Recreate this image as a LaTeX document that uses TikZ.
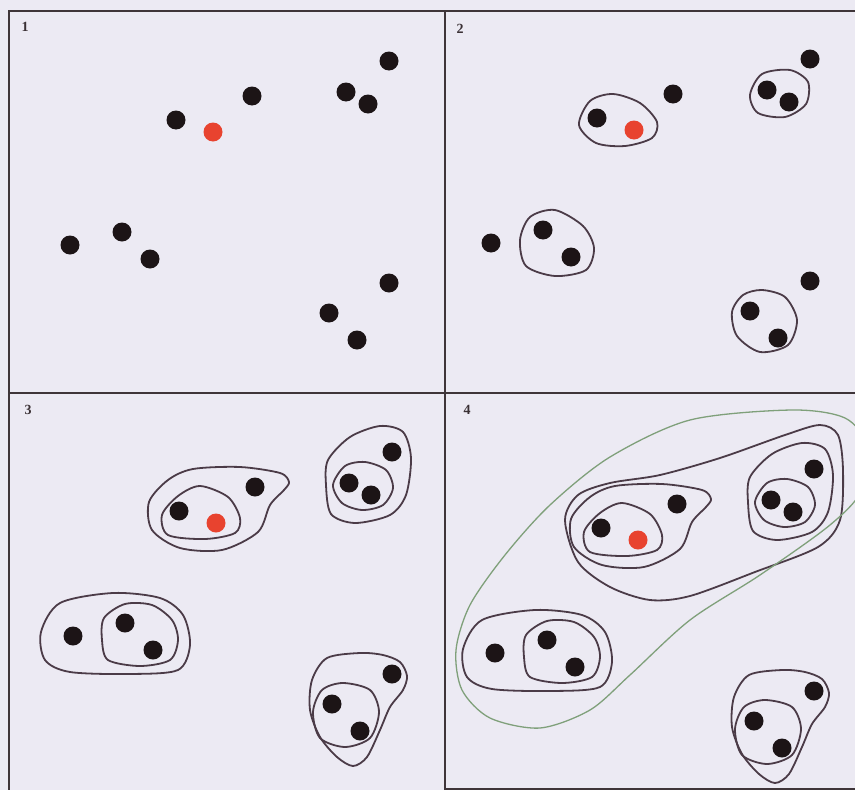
\documentclass[tikz,border=0pt]{standalone}
\usepackage{fontspec}
\setmainfont{Liberation Serif}
\definecolor{bgc}{HTML}{ECEAF3}
\definecolor{dotblack}{HTML}{1C1416}
\definecolor{dotred}{HTML}{E8432F}
\definecolor{ringc}{HTML}{4B3B47}
\definecolor{greenc}{HTML}{7FA07A}
\definecolor{gridc}{HTML}{3F3539}
\definecolor{labelc}{HTML}{3A3034}
\newcommand\paneldots[1]{%
  \node[dot] (#1a) at (389,61) {};
  \node[dot] (#1b) at (252,96) {};
  \node[dot] (#1c) at (346,92) {};
  \node[dot] (#1d) at (368,104) {};
  \node[dot] (#1e) at (176,120) {};
  \node[rdot] (#1r) at (213,132) {};
  \node[dot] (#1f) at (70,245) {};
  \node[dot] (#1g) at (122,232) {};
  \node[dot] (#1h) at (150,259) {};
  \node[dot] (#1i) at (389,283) {};
  \node[dot] (#1j) at (329,313) {};
  \node[dot] (#1k) at (357,340) {};
}
\begin{document}
\begin{tikzpicture}[x=1pt,y=-1pt,
  dot/.style={circle,fill=dotblack,inner sep=0pt,minimum size=19pt},
  rdot/.style={circle,fill=dotred,inner sep=0pt,minimum size=19pt},
  ring/.style={draw=ringc,line width=1.8pt},
  gring/.style={draw=greenc,line width=1.3pt},
  gridline/.style={draw=gridc,line width=2.6pt},
  lbl/.style={font=\bfseries\fontsize{14}{14}\selectfont,text=labelc,inner sep=0pt}]
\fill[bgc] (0,0) rectangle (855,790);
\useasboundingbox (0,0) rectangle (855,790);

% grid
\coordinate (tl) at (9,11);
\coordinate (tr) at (855,11);
\coordinate (bl) at (9,790);
\coordinate (mt) at (445,11);
\coordinate (mb) at (445,790);
\coordinate (ml) at (9,393);
\coordinate (mr) at (855,393);
\coordinate (br) at (855,789);
\coordinate (bm) at (445,789);
\draw[gridline] (bl) -- (tl) -- (tr);
\draw[gridline] (mt) -- (mb);
\draw[gridline] (ml) -- (mr);
\draw[gridline] (bm) -- (br);

% labels
\node[lbl] (l1) at (25,27) {1};
\node[lbl] (l2) at (460,29) {2};
\node[lbl] (l3) at (28,410) {3};
\node[lbl] (l4) at (467,410) {4};

% dots
\paneldots{p}
\begin{scope}[shift={(421,-2)}]\paneldots{q}\end{scope}
\begin{scope}[shift={(3,391)}]\paneldots{s}\end{scope}
\begin{scope}[shift={(425,408)}]\paneldots{t}\end{scope}

% panel 2 rings
\draw[ring] plot[smooth cycle] coordinates {(613,94) (640,103) (657,122) (652,138) (625,146) (596,143) (579,125) (590,101)};
\draw[ring] plot[smooth cycle] coordinates {(750,95) (762,74) (790,70) (808,82) (806,104) (785,117) (758,113)};
\draw[ring] plot[smooth cycle] coordinates {(555,210) (583,226) (594,248) (586,270) (555,276) (526,266) (520,240) (530,217)};
\draw[ring] plot[smooth cycle] coordinates {(762,290) (785,297) (797,320) (788,345) (760,352) (737,336) (732,312) (743,295)};

% panel 3 and 4 rings
\foreach \sx/\sy in {0/0, 422/17}{
\begin{scope}[shift={(\sx,\sy)}]
\draw[ring] plot[smooth cycle] coordinates {(200,486) (228,497) (240,518) (235,533) (205,539) (168,535) (162,515) (178,496)};
\draw[ring] plot[smooth cycle] coordinates {(193,469) (240,467) (280,473) (289,482) (284,490) (270,505) (258,532) (222,550) (180,548) (152,530) (149,502) (168,480)};
\draw[ring] plot[smooth cycle] coordinates {(333,485) (345,466) (365,462) (386,470) (393,488) (383,505) (362,510) (342,503)};
\draw[ring] plot[smooth cycle] coordinates {(328,460) (350,437) (380,426) (403,432) (411,458) (406,495) (390,515) (355,523) (331,514) (326,485)};
\draw[ring] plot[smooth cycle] coordinates {(104,618) (125,604) (152,605) (172,620) (178,640) (170,660) (140,666) (108,660) (102,640)};
\draw[ring] plot[smooth cycle] coordinates {(41,632) (60,603) (113,593) (160,598) (183,615) (190,645) (178,670) (130,674) (70,672) (45,660)};
\draw[ring] plot[smooth cycle] coordinates {(343,683) (370,690) (379,712) (370,738) (345,747) (320,738) (313,712) (322,690)};
\draw[ring] plot[smooth cycle] coordinates {(360,653) (383,655) (400,662) (407,676) (403,690) (390,707) (380,730) (367,757) (353,766) (337,757) (320,737) (310,710) (312,680) (327,658)};
\end{scope}}

% panel 4 big ring
\draw[ring] plot[smooth cycle] coordinates {(565,520) (578,495) (610,483) (660,475) (720,458) (785,435) (820,425) (838,435) (843,470) (840,520) (818,547) (755,572) (690,596) (650,600) (610,587) (578,562)};

% green ring (clipped at right edge)
\begin{scope}
\clip (0,0) rectangle (855,790);
\draw[gring] plot[smooth cycle] coordinates {(792,410) (845,418) (866,445) (862,490) (830,525) (760,575) (690,620) (630,675) (590,710) (540,728) (490,718) (462,690) (456,650) (470,605) (505,555) (550,505) (610,457) (690,420)};
\end{scope}
\end{tikzpicture}
\end{document}
